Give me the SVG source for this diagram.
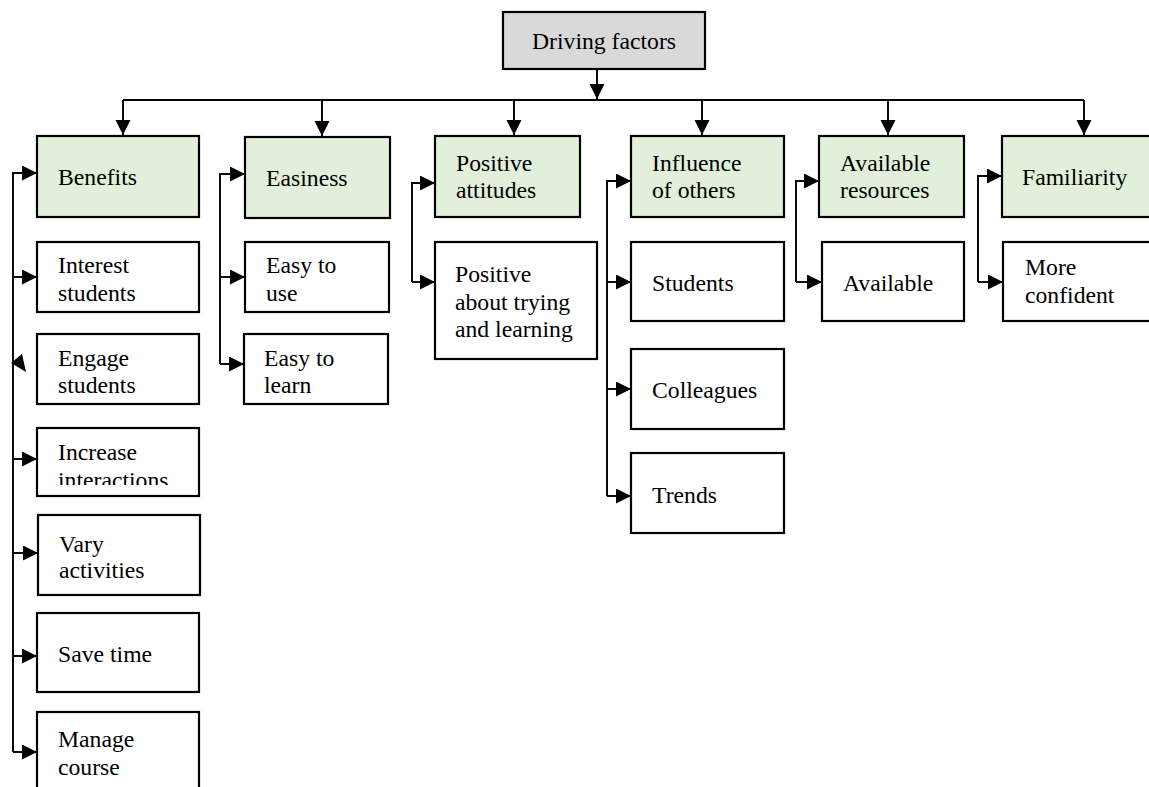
<svg xmlns="http://www.w3.org/2000/svg" width="1149" height="787" viewBox="0 0 1149 787">
<style>
.box{fill:#ffffff;stroke:#000;stroke-width:2.2}
.cat{fill:#e2efda;stroke:#000;stroke-width:2.2}
.root{fill:#d9d9d9;stroke:#000;stroke-width:2.2}
.t{font-family:"Liberation Serif","Times New Roman",serif;font-size:23.7px;fill:#000}
.c{fill:none;stroke:#000;stroke-width:1.9}
</style>
<defs>
<marker id="ah" markerUnits="userSpaceOnUse" markerWidth="16" markerHeight="16" refX="15" refY="7.5" orient="auto">
<path d="M0,0 L15,7.5 L0,15 Z" fill="#000"/>
</marker>
<clipPath id="clipInc"><rect x="37" y="428" width="163" height="57"/></clipPath>
</defs>
<rect width="1149" height="787" fill="#fff"/>

<g id="connectors">
<path class="c" d="M597,69 V99" marker-end="url(#ah)"/>
<path class="c" d="M123,100 H1084"/>
<path class="c" d="M123,100 V135" marker-end="url(#ah)"/>
<path class="c" d="M322,100 V136" marker-end="url(#ah)"/>
<path class="c" d="M514,100 V135" marker-end="url(#ah)"/>
<path class="c" d="M702,100 V135" marker-end="url(#ah)"/>
<path class="c" d="M888,100 V135" marker-end="url(#ah)"/>
<path class="c" d="M1084,100 V135" marker-end="url(#ah)"/>

<path class="c" d="M13,752 V173 H37" marker-end="url(#ah)"/>
<path class="c" d="M13,277 H37" marker-end="url(#ah)"/>
<polygon points="11,363 22,354 26,372" fill="#000"/>
<path class="c" d="M13,459 H37" marker-end="url(#ah)"/>
<path class="c" d="M13,553 H38" marker-end="url(#ah)"/>
<path class="c" d="M13,656 H37" marker-end="url(#ah)"/>
<path class="c" d="M13,752 H37" marker-end="url(#ah)"/>

<path class="c" d="M220,364 V174 H245" marker-end="url(#ah)"/>
<path class="c" d="M220,277 H245" marker-end="url(#ah)"/>
<path class="c" d="M220,364 H244" marker-end="url(#ah)"/>

<path class="c" d="M412,282 V183 H435" marker-end="url(#ah)"/>
<path class="c" d="M412,282 H435" marker-end="url(#ah)"/>

<path class="c" d="M607,496 V181 H631" marker-end="url(#ah)"/>
<path class="c" d="M607,282 H631" marker-end="url(#ah)"/>
<path class="c" d="M607,389 H631" marker-end="url(#ah)"/>
<path class="c" d="M607,496 H631" marker-end="url(#ah)"/>

<path class="c" d="M796,282 V181 H819" marker-end="url(#ah)"/>
<path class="c" d="M796,282 H822" marker-end="url(#ah)"/>

<path class="c" d="M978,282 V176 H1002" marker-end="url(#ah)"/>
<path class="c" d="M978,282 H1003" marker-end="url(#ah)"/>
</g>

<g id="root">
<rect class="root" x="503" y="12" width="202" height="57"/>
<text class="t" x="532" y="49">Driving factors</text>
</g>

<g id="benefits">
<rect class="cat" x="37" y="136" width="162" height="81"/>
<text class="t" x="58" y="185">Benefits</text>
</g>
<g id="easiness">
<rect class="cat" x="245" y="137" width="145" height="81"/>
<text class="t" x="266" y="186">Easiness</text>
</g>
<g id="positive-attitudes">
<rect class="cat" x="435" y="136" width="145" height="81"/>
<text class="t" x="456" y="171">Positive</text>
<text class="t" x="456" y="198">attitudes</text>
</g>
<g id="influence">
<rect class="cat" x="631" y="136" width="153" height="81"/>
<text class="t" x="652" y="171">Influence</text>
<text class="t" x="652" y="198">of others</text>
</g>
<g id="available-resources">
<rect class="cat" x="819" y="136" width="145" height="81"/>
<text class="t" x="840" y="171">Available</text>
<text class="t" x="840" y="198">resources</text>
</g>
<g id="familiarity">
<rect class="cat" x="1002" y="136" width="160" height="81"/>
<text class="t" x="1022" y="185">Familiarity</text>
</g>

<g id="interest-students">
<rect class="box" x="37" y="242" width="162" height="70"/>
<text class="t" x="58" y="273">Interest</text>
<text class="t" x="58" y="301">students</text>
</g>
<g id="engage-students">
<rect class="box" x="37" y="334" width="162" height="70"/>
<text class="t" x="58" y="366">Engage</text>
<text class="t" x="58" y="393">students</text>
</g>
<g id="increase-interactions">
<rect class="box" x="37" y="428" width="162" height="68"/>
<g clip-path="url(#clipInc)">
<text class="t" x="58" y="460">Increase</text>
<text class="t" x="58" y="488">interactions</text>
</g>
</g>
<g id="vary-activities">
<rect class="box" x="38" y="515" width="162" height="80"/>
<text class="t" x="59" y="552">Vary</text>
<text class="t" x="59" y="578">activities</text>
</g>
<g id="save-time">
<rect class="box" x="37" y="613" width="162" height="79"/>
<text class="t" x="58" y="662">Save time</text>
</g>
<g id="manage-course">
<rect class="box" x="37" y="712" width="162" height="90"/>
<text class="t" x="58" y="747">Manage</text>
<text class="t" x="58" y="775">course</text>
</g>

<g id="easy-to-use">
<rect class="box" x="245" y="242" width="144" height="70"/>
<text class="t" x="266" y="273">Easy to</text>
<text class="t" x="266" y="301">use</text>
</g>
<g id="easy-to-learn">
<rect class="box" x="244" y="334" width="144" height="70"/>
<text class="t" x="264" y="366">Easy to</text>
<text class="t" x="264" y="393">learn</text>
</g>

<g id="positive-about">
<rect class="box" x="435" y="242" width="162" height="117"/>
<text class="t" x="455" y="282">Positive</text>
<text class="t" x="455" y="310">about trying</text>
<text class="t" x="455" y="337">and learning</text>
</g>

<g id="students">
<rect class="box" x="631" y="242" width="153" height="79"/>
<text class="t" x="652" y="291">Students</text>
</g>
<g id="colleagues">
<rect class="box" x="631" y="349" width="153" height="80"/>
<text class="t" x="652" y="398">Colleagues</text>
</g>
<g id="trends">
<rect class="box" x="631" y="453" width="153" height="80"/>
<text class="t" x="652" y="503">Trends</text>
</g>

<g id="available">
<rect class="box" x="822" y="242" width="142" height="79"/>
<text class="t" x="843" y="291">Available</text>
</g>

<g id="more-confident">
<rect class="box" x="1003" y="242" width="160" height="79"/>
<text class="t" x="1025" y="275">More</text>
<text class="t" x="1025" y="303">confident</text>
</g>
</svg>
